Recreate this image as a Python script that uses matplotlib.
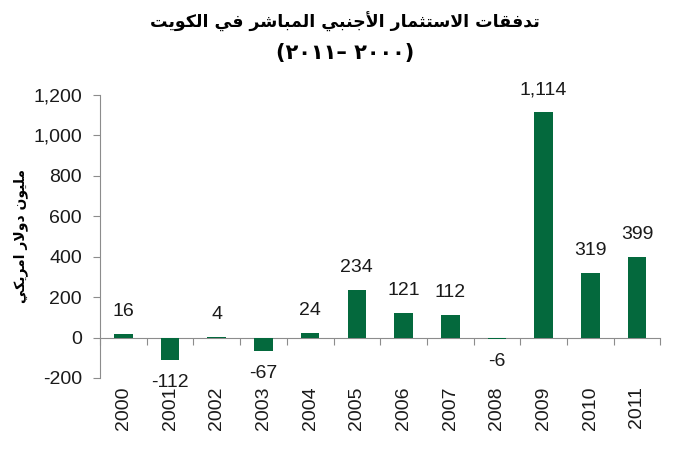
import matplotlib
matplotlib.use("Agg")
import matplotlib.pyplot as plt
from matplotlib.ticker import FuncFormatter, FixedLocator

years = ["2000", "2001", "2002", "2003", "2004", "2005", "2006", "2007", "2008", "2009", "2010", "2011"]
values = [16, -112, 4, -67, 24, 234, 121, 112, -6, 1114, 319, 399]
yticks = [-200, 0, 200, 400, 600, 800, 1000, 1200]

title_line1 = "تدفقات الاستثمار الأجنبي المباشر في الكويت"
title_line2 = "(٢٠١١– ٢٠٠٠)"  # already in visual order
ylabel_text = "مليون دولار امريكي"

# ---- minimal Arabic shaping (presentation forms) + RTL reversal ----
FORMS = {
    # char: (isolated, final, initial, medial) ; None => no initial/medial (right-joining)
    "ا": ("\uFE8D", "\uFE8E", None, None),
    "أ": ("\uFE83", "\uFE84", None, None),
    "ب": ("\uFE8F", "\uFE90", "\uFE91", "\uFE92"),
    "ت": ("\uFE95", "\uFE96", "\uFE97", "\uFE98"),
    "ث": ("\uFE99", "\uFE9A", "\uFE9B", "\uFE9C"),
    "ج": ("\uFE9D", "\uFE9E", "\uFE9F", "\uFEA0"),
    "د": ("\uFEA9", "\uFEAA", None, None),
    "ر": ("\uFEAD", "\uFEAE", None, None),
    "س": ("\uFEB1", "\uFEB2", "\uFEB3", "\uFEB4"),
    "ش": ("\uFEB5", "\uFEB6", "\uFEB7", "\uFEB8"),
    "ف": ("\uFED1", "\uFED2", "\uFED3", "\uFED4"),
    "ق": ("\uFED5", "\uFED6", "\uFED7", "\uFED8"),
    "ك": ("\uFED9", "\uFEDA", "\uFEDB", "\uFEDC"),
    "ل": ("\uFEDD", "\uFEDE", "\uFEDF", "\uFEE0"),
    "م": ("\uFEE1", "\uFEE2", "\uFEE3", "\uFEE4"),
    "ن": ("\uFEE5", "\uFEE6", "\uFEE7", "\uFEE8"),
    "و": ("\uFEED", "\uFEEE", None, None),
    "ي": ("\uFEF1", "\uFEF2", "\uFEF3", "\uFEF4"),
    "لا": ("\uFEFB", "\uFEFC", None, None),
    "لأ": ("\uFEF7", "\uFEF8", None, None),
}


def shape(text):
    units = []
    i = 0
    while i < len(text):
        pair = text[i:i + 2]
        if pair in ("لا", "لأ"):
            units.append(pair)
            i += 2
        else:
            units.append(text[i])
            i += 1
    out = []
    for k, u in enumerate(units):
        if u not in FORMS:
            out.append(u)
            continue
        prev = units[k - 1] if k > 0 else None
        nxt = units[k + 1] if k + 1 < len(units) else None
        join_prev = prev in FORMS and FORMS[prev][2] is not None
        can_next = FORMS[u][2] is not None and nxt in FORMS
        iso, fin, ini, med = FORMS[u]
        if join_prev and can_next:
            out.append(med)
        elif join_prev:
            out.append(fin)
        elif can_next:
            out.append(ini)
        else:
            out.append(iso)
    return "".join(out)[::-1]


green = "#04693D"
gray = "#8C8C8C"
txt = "#1A1A1A"

fig = plt.figure(figsize=(6.9, 4.5), dpi=100)
ax = fig.add_axes([0.145, 0.16, 0.812, 0.629])

x = list(range(len(years)))
ax.bar(x, values, width=0.4, color=green, zorder=3)

ymin, ymax = -200, 1200
ax.set_ylim(ymin, ymax)
ax.set_xlim(-0.5, len(years) - 0.5)
ax.yaxis.set_major_locator(FixedLocator(yticks))
ax.yaxis.set_major_formatter(FuncFormatter(lambda v, p: f"{int(v):,}"))

for s in ["top", "right", "bottom"]:
    ax.spines[s].set_visible(False)
ax.spines["left"].set_color(gray)
ax.tick_params(axis="y", direction="out", length=5, color=gray, labelsize=14,
               labelcolor=txt, pad=8)
ax.set_xticks(x)
ax.set_xticklabels(years, rotation=90, fontsize=14, color=txt)
ax.tick_params(axis="x", length=0, pad=6)

# zero line with category-boundary ticks
sec = ax.secondary_xaxis((0 - ymin) / (ymax - ymin))
sec.spines["bottom"].set_color(gray)
sec.set_xticks([i + 0.5 for i in range(-1, len(years))])
sec.set_xticklabels([])
sec.tick_params(axis="x", direction="out", length=5, color=gray)

for xi, v in zip(x, values):
    off = 10 if v >= 0 else -10
    ax.annotate(f"{v:,}", (xi, v), xytext=(0, off), textcoords="offset points",
                ha="center", va="bottom" if v >= 0 else "top",
                fontsize=14, color=txt)

fig.text(0.5, 0.951, shape(title_line1), ha="center", va="center",
         fontsize=12.5, fontweight="bold", family="DejaVu Sans", color="black")
fig.text(0.5, 0.882, title_line2, ha="center", va="center",
         fontsize=15, fontweight="bold", family="DejaVu Sans", color="black")

ax.set_ylabel(shape(ylabel_text), fontsize=10, fontweight="bold",
              family="DejaVu Sans", labelpad=4, color="black")

for lbl in ax.get_xticklabels() + ax.get_yticklabels():
    lbl.set_family("Liberation Sans")
for t in ax.texts:
    t.set_family("Liberation Sans")

fig.savefig("out.png", dpi=100, facecolor="white")
